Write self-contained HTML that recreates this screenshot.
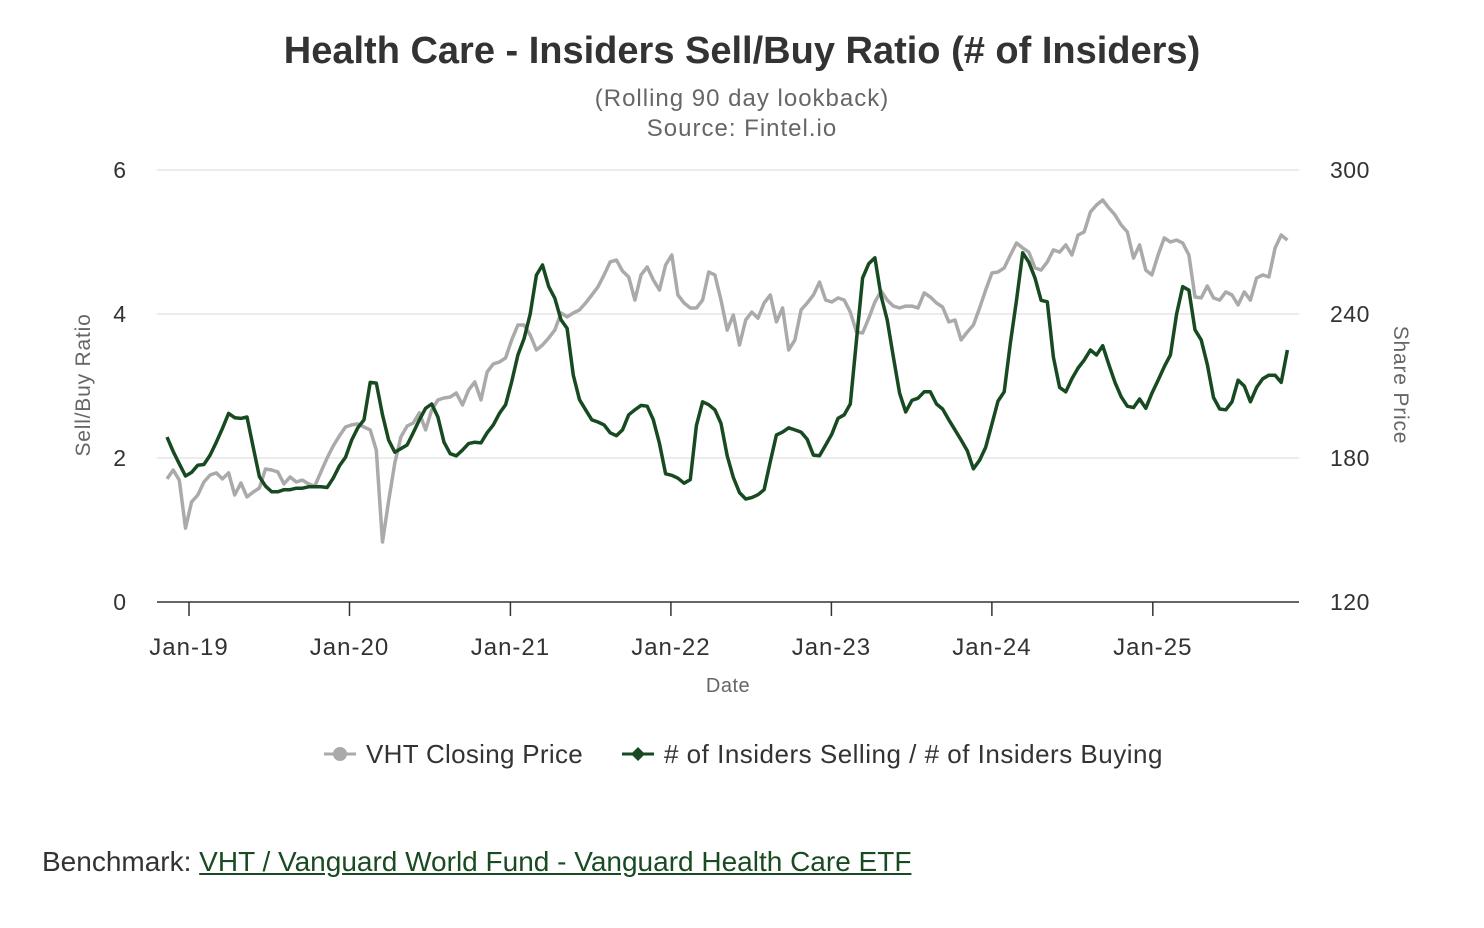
<!DOCTYPE html>
<html><head><meta charset="utf-8">
<style>
body{margin:0;background:#fff;font-family:"Liberation Sans",sans-serif;}
#wrap{position:relative;width:1484px;height:928px;overflow:hidden;}
.bench{position:absolute;left:42px;top:846px;font-size:28px;color:#333;}
.bench a{color:#1a4a22;text-decoration:underline;}
</style></head>
<body>
<div id="wrap">
<svg id="chart" width="1484" height="840" style="position:absolute;left:0;top:0"></svg>
<div class="bench">Benchmark: <a>VHT / Vanguard World Fund - Vanguard Health Care ETF</a></div>
</div>
<script>
const startDate = [2018, 11, 12];
const stepDays = 14;
const ratioValues = [2.29,2.09,1.92,1.75,1.80,1.90,1.91,2.04,2.22,2.41,2.62,2.56,2.55,2.57,2.15,1.74,1.61,1.53,1.53,1.56,1.56,1.58,1.58,1.60,1.60,1.60,1.59,1.72,1.89,2.01,2.25,2.42,2.53,3.05,3.04,2.60,2.25,2.08,2.13,2.18,2.35,2.53,2.69,2.75,2.57,2.22,2.06,2.03,2.11,2.20,2.22,2.21,2.35,2.46,2.62,2.74,3.06,3.43,3.66,4.00,4.54,4.68,4.38,4.22,3.92,3.80,3.15,2.81,2.67,2.53,2.50,2.46,2.35,2.31,2.39,2.60,2.67,2.73,2.72,2.53,2.20,1.78,1.76,1.72,1.65,1.70,2.45,2.78,2.74,2.67,2.48,2.03,1.73,1.52,1.43,1.45,1.49,1.56,1.95,2.32,2.36,2.42,2.39,2.36,2.26,2.04,2.03,2.18,2.33,2.55,2.60,2.75,3.64,4.50,4.70,4.78,4.25,3.92,3.40,2.90,2.64,2.80,2.83,2.92,2.92,2.75,2.68,2.53,2.39,2.25,2.10,1.85,1.97,2.15,2.47,2.79,2.92,3.60,4.19,4.85,4.72,4.50,4.19,4.17,3.40,2.98,2.92,3.10,3.25,3.36,3.50,3.43,3.56,3.30,3.05,2.85,2.72,2.70,2.82,2.69,2.90,3.08,3.27,3.43,4.00,4.38,4.33,3.78,3.64,3.30,2.84,2.68,2.67,2.78,3.08,3.00,2.78,2.98,3.10,3.15,3.15,3.05,3.50];
const priceValues = [171.3,175,170.8,150.8,161.7,164.6,170,172.9,173.8,171.3,173.8,164.6,169.6,163.8,165.8,167.5,175.4,175,174.2,169.2,172.1,170,170.8,169.2,168.3,174.2,180,185,189.2,192.9,193.8,194.2,192.9,191.7,183.3,145,162,177.9,188.8,193.3,194.6,198.8,191.7,200,204.2,205,205.4,207.1,202.1,208.3,211.7,204.2,215.8,219.2,220,221.7,229.2,235.4,235.4,231.3,225,227.1,230,233.3,240.4,238.8,240.4,241.7,244.6,247.9,251.3,256.3,261.7,262.5,257.9,255.4,245.8,256.3,259.6,254.2,250,260.4,264.6,247.9,244.6,242.5,242.5,245.8,257.5,256.3,245.8,233.3,239.6,227.1,237.5,240.8,238.3,244.6,247.9,236.7,242.5,225,229.2,241.7,244.6,247.9,253.3,245.8,245,246.7,245.8,240.8,232.5,232.1,238.3,245,249.6,245.8,243.3,242.5,243.3,243.3,242.5,248.8,247.1,244.6,242.9,236.7,237.5,229.2,232.5,235.4,242.5,250,257.1,257.5,259.2,264.6,269.6,267.5,265.8,259.2,258.3,261.7,266.7,265.8,268.8,264.6,272.9,274.2,282.5,285.4,287.5,284.2,281.3,277.1,274.2,263.3,268.8,258.3,256.3,264.6,271.7,270,270.8,269.6,264.6,247.1,246.7,251.7,246.7,245.8,249.2,247.9,243.8,249.2,245.8,255,256.3,255.4,267.5,272.9,270.8];
const leftTicks = [0,2,4,6];
const rightTicks = [120,180,240,300];
const xTickLabels = ["Jan-19","Jan-20","Jan-21","Jan-22","Jan-23","Jan-24","Jan-25"];
const xTickYears = [2019,2020,2021,2022,2023,2024,2025];

const NS="http://www.w3.org/2000/svg";
const svg=document.getElementById('chart');
const PL=157,PR=1299,PT=170,PB=602;
const refDay=Date.UTC(2019,0,1)/86400000, pxPerDay=160.6/365.25, x0=189;
function xOfDay(d){return x0+(d-refDay)*pxPerDay;}
const startDay=Date.UTC(startDate[0],startDate[1]-1,startDate[2])/86400000;
function xIdx(i){return xOfDay(startDay+i*stepDays);}
function yL(v){return PB-(v-0)/(6-0)*(PB-PT);}
function yR(v){return PB-(v-120)/(300-120)*(PB-PT);}
function mk(tag,attrs,parent){const e=document.createElementNS(NS,tag);for(const k in attrs)e.setAttribute(k,attrs[k]);(parent||svg).appendChild(e);return e;}
function txt(s,attrs){const e=mk('text',attrs);e.textContent=s;return e;}

let t=txt('Health Care - Insiders Sell/Buy Ratio (# of Insiders)',{x:742,y:63,'text-anchor':'middle','font-size':38,'font-weight':'bold',fill:'#333'});

t=txt('(Rolling 90 day lookback)',{x:742,y:106,'text-anchor':'middle','font-size':24,'letter-spacing':1,fill:'#666'});

t=txt('Source: Fintel.io',{x:742,y:136,'text-anchor':'middle','font-size':24,'letter-spacing':1,fill:'#666'});


leftTicks.forEach((v,i)=>{
  if(v!==0){const g=mk('line',{x1:PL,x2:PR,y1:yL(v),y2:yL(v),stroke:'#e6e6e6','stroke-width':1.5});
  }
  const l=txt(String(v),{x:126,y:yL(v)+8,'text-anchor':'end','font-size':23,fill:'#333'});
  
});
rightTicks.forEach(v=>{
  const l=txt(String(v),{x:1330,y:yR(v)+8,'text-anchor':'start','font-size':23,'letter-spacing':0.5,fill:'#333'});
  
});
t=txt('Sell/Buy Ratio',{x:0,y:0,transform:'translate(90,385) rotate(-90)','text-anchor':'middle','font-size':21,'letter-spacing':0.8,fill:'#666'});

t=txt('Share Price',{x:0,y:0,transform:'translate(1394,385) rotate(90)','text-anchor':'middle','font-size':21,'letter-spacing':0.8,fill:'#666'});


const ax=mk('line',{x1:PL,x2:PR,y1:PB,y2:PB,stroke:'#333','stroke-width':1.5});

xTickYears.forEach((yr,i)=>{
  const x=xOfDay(Date.UTC(yr,0,1)/86400000);
  const tk=mk('line',{x1:x,x2:x,y1:PB,y2:PB+14,stroke:'#333','stroke-width':1.5});
  
  const l=txt(xTickLabels[i],{x:x,y:655,'text-anchor':'middle','font-size':24,'letter-spacing':1,fill:'#333'});
  
});
t=txt('Date',{x:728,y:692,'text-anchor':'middle','font-size':20,'letter-spacing':0.5,fill:'#666'});


const gp=mk('path',{d:priceValues.map((v,i)=>(i?'L':'M')+xIdx(i).toFixed(1)+','+yR(v).toFixed(1)).join(''),fill:'none',stroke:'#aaaaaa','stroke-width':3.5,'stroke-linejoin':'round'});

const rp=mk('path',{d:ratioValues.map((v,i)=>(i?'L':'M')+xIdx(i).toFixed(1)+','+yL(v).toFixed(1)).join(''),fill:'none',stroke:'#174a20','stroke-width':3.5,'stroke-linejoin':'round'});


// legend
let lg=mk('line',{x1:324,x2:356,y1:754,y2:754,stroke:'#aaa','stroke-width':3});

lg=mk('circle',{cx:340,cy:754,r:7,fill:'#aaa'});

t=txt('VHT Closing Price',{x:366,y:763,'font-size':26,'letter-spacing':0.3,fill:'#333'});

lg=mk('line',{x1:622,x2:654,y1:754,y2:754,stroke:'#174a20','stroke-width':3});

lg=mk('path',{d:'M638,747L645,754L638,761L631,754Z',fill:'#174a20'});

t=txt('# of Insiders Selling / # of Insiders Buying',{x:664,y:763,'font-size':26,'letter-spacing':0.5,fill:'#333'});

</script>
</body></html>
